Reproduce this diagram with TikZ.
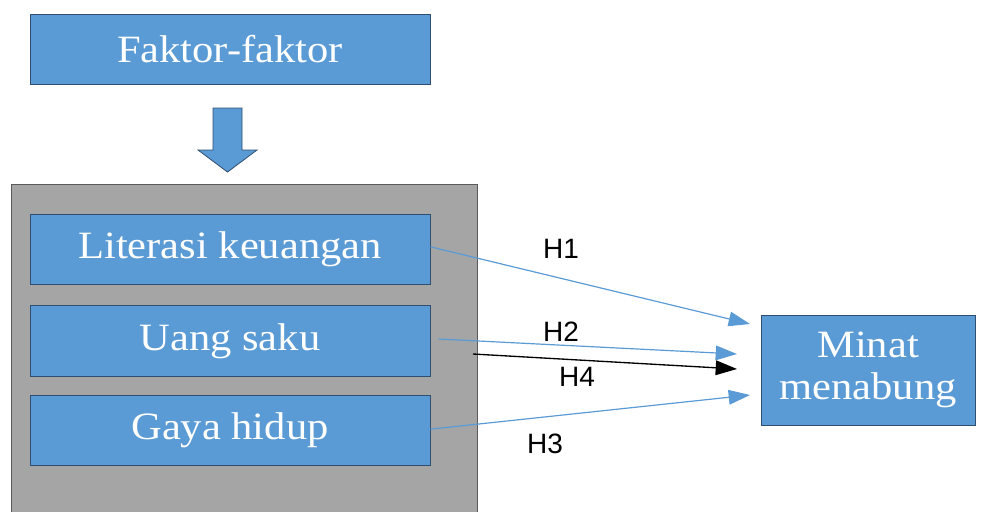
\documentclass[tikz,border=0pt]{standalone}
\usepackage{fontspec}
\setmainfont{Liberation Serif}[FakeStretch=1.1]
\newfontfamily\hfont{Liberation Sans}
\usetikzlibrary{arrows.meta}

\definecolor{boxblue}{RGB}{91,155,213}
\definecolor{boxline}{RGB}{47,78,112}
\definecolor{panelgray}{RGB}{165,165,165}
\definecolor{panelline}{RGB}{90,90,90}

\tikzset{every picture/.style={line width=0.75pt}}
\tikzset{
  varbox/.style={draw=boxline, fill=boxblue, text=white, inner sep=0pt,
    minimum width=300pt, minimum height=53pt, align=center,
    font=\fontsize{29}{32}\selectfont},
  hlabel/.style={inner sep=0.75pt, font=\hfont\fontsize{21}{24}\selectfont},
  hyp/.style={draw=boxblue, line width=0.9pt, -{Triangle[length=16pt,width=11pt]}},
}

\begin{document}
\begin{tikzpicture}[x=0.75pt,y=0.75pt,yscale=-1,xscale=1]
\useasboundingbox (0,0) rectangle (987,511);

% Shape: top box
\node [varbox, minimum height=52.5pt] (faktor) at (230,49) {Faktor-faktor};

% Shape: block arrow
\draw [draw=boxline, fill=boxblue, line width=0.6pt] (213,108) -- (242,108) -- (242,150) -- (257,150) -- (227.5,172) -- (198,150) -- (213,150) -- cycle ;

% Shape: gray panel
\node [draw=panelline, fill=panelgray, line width=1pt, minimum width=349.5pt, minimum height=260pt, inner sep=0pt, anchor=north west] (panel) at (11,184) {};

% Variables
\node [varbox] (literasi) at (230,249.5) {Literasi keuangan};
\node [varbox] (uang) at (230,341) {Uang saku};
\node [varbox] (gaya) at (230,430.5) {Gaya hidup};

% Shape: dependent variable
\node [varbox, minimum width=160.5pt, minimum height=82.5pt] (minat) at (868,370) {Minat\\menabung};

% Arrow ends
\coordinate (s4) at (473,354);
\coordinate (e1) at (750,324);
\coordinate (e2) at (737,354);
\coordinate (e4) at (737,369);
\coordinate (e3) at (750,395);

% Hypotheses
\draw [hyp] ([yshift=-2pt]literasi.east) -- (e1);
\draw [hyp] ([xshift=6pt,yshift=-1.5pt]uang.east) -- (e2);
\draw [line width=1pt, -{Triangle[length=16pt,width=11pt]}] (s4) -- (e4);
\draw [hyp] ([yshift=-1pt]gaya.east) -- (e3);

% Text Node
\node [hlabel] (h1) at (561,249) {H1};
\node [hlabel] (h2) at (561,332) {H2};
\node [hlabel] (h4) at (577,377) {H4};
\node [hlabel] (h3) at (545,444) {H3};

\end{tikzpicture}
\end{document}
